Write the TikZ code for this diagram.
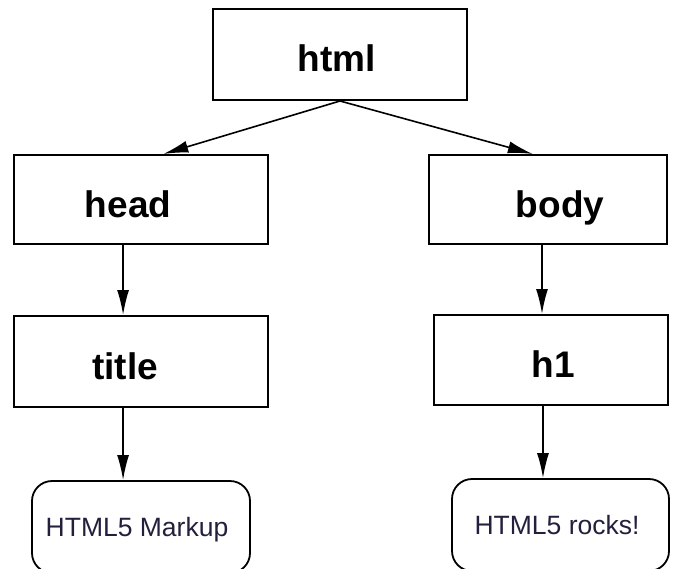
\documentclass[tikz,border=0pt]{standalone}
\usepackage{fontspec}
\setmainfont{Liberation Sans}
\usetikzlibrary{arrows.meta,calc}
\definecolor{leaftext}{HTML}{22203C}
\begin{document}
\begin{tikzpicture}[x=1pt,y=-1pt,
  tagbox/.style={draw=black,line width=2pt,rectangle,inner sep=0pt,
    text height=35pt,text depth=0pt,
    font=\fontsize{37}{40}\selectfont\bfseries},
  leafbox/.style={draw=black,line width=1.8pt,rectangle,rounded corners=20pt,
    inner sep=0pt,text height=19pt,text depth=0pt,
    font=\fontsize{26.5}{29}\selectfont,text=leaftext},
  arr/.style={draw=black,line width=1.6pt,-{Latex[length=25pt,width=12pt]}}]
\useasboundingbox (0,0) rectangle (676,569);
\clip (0,0) rectangle (676,569);
% element boxes (labels nudged sideways with invisible padding)
\node[tagbox,minimum width=254pt,minimum height=91pt] (html)  at (340,54.5) {html\hspace*{7pt}};
\node[tagbox,minimum width=254pt,minimum height=89pt] (head)  at (141,199.5) {head\hspace*{26pt}};
\node[tagbox,minimum width=254pt,minimum height=91pt] (title) at (141,361.5) {title\hspace*{32pt}};
\node[tagbox,minimum width=238pt,minimum height=89pt] (body)  at (548,199.5) {\hspace*{24pt}body};
\node[tagbox,minimum width=234pt,minimum height=90pt] (h1)    at (551,360) {\hspace*{5pt}h1};
% text content leaves
\node[leafbox,minimum width=218pt,minimum height=92pt] (markup) at (141,527) {HTML5 Markup\hspace*{8pt}};
\node[leafbox,minimum width=217pt,minimum height=92pt] (rocks)  at (560.5,525) {HTML5 rocks!\hspace*{7pt}};
% connector end points on the box edges
\coordinate (headin) at ($(head.north west)!0.587!(head.north east)$);
\coordinate (bodyin) at ($(body.north west)!0.437!(body.north east)$);
\coordinate (headout) at ($(head.south west)!0.43!(head.south east)$);
\coordinate (titleout) at ($(title.south west)!0.43!(title.south east)$);
\coordinate (bodyout) at ($(body.south west)!0.475!(body.south east)$);
\coordinate (h1out) at ($(h1.south west)!0.466!(h1.south east)$);
% connectors
\draw[arr] (html.south) -- (headin);
\draw[arr] (html.south) -- (bodyin);
\draw[arr] (headout) -- (headout |- title.north);
\draw[arr] (bodyout) -- (bodyout |- h1.north);
\draw[arr] (titleout) -- (titleout |- markup.north);
\draw[arr] (h1out) -- (h1out |- rocks.north);
\end{tikzpicture}
\end{document}
